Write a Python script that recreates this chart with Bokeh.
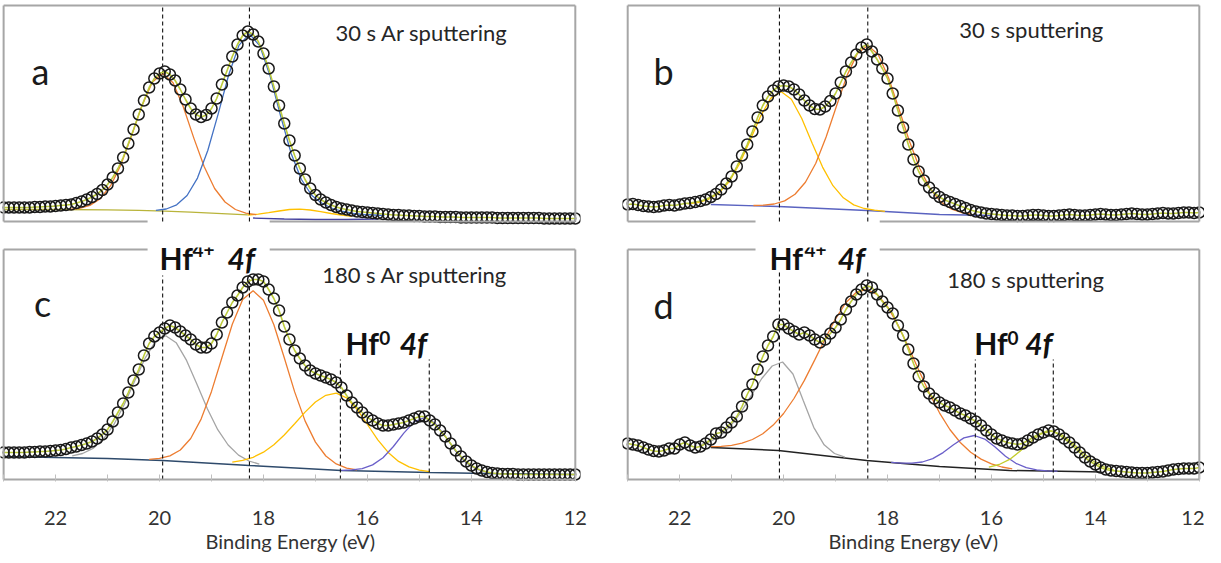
import numpy as np
from bokeh.plotting import figure
from bokeh.models import Range1d, Label, LinearAxis, FixedTicker
from bokeh.layouts import column, row
from bokeh.embed import file_html
from bokeh.resources import INLINE

# ---------------- data (intensity in arbitrary units) -------------
energy = np.round(np.linspace(23.0, 12.0, 111), 2)   # binding energy grid, 0.1 eV

a_data = [14, 14, 14, 14, 14, 14, 14.5, 14.5, 15, 15,
          15.5, 16, 16.5, 17, 18.5, 20, 22, 24.5, 27.5, 31.5,
          37, 44, 53, 64, 78, 92, 107, 121, 134, 143,
          148, 150, 147, 141, 132, 122, 113, 107, 104.5, 106.5,
          113, 123, 137, 151, 165, 177, 186, 190, 187, 180,
          168, 153, 135, 116, 98, 81, 66, 53, 42, 33,
          26.5, 22, 19, 16.5, 14.5, 13, 12, 11, 10, 9.5,
          9, 8.5, 8, 7.5, 7, 6.5, 6.5, 6, 6, 5.5,
          5.5, 5, 5, 5, 4.5, 4.5, 4.5, 4.5, 4, 4,
          4, 4, 4, 4, 4, 3.5, 3.5, 3.5, 3.5, 3.5,
          3.5, 3.5, 3.5, 3.5, 3, 3, 3, 3, 3, 3,
          3]
b_data = [17, 17.5, 16.5, 15.5, 15, 14.5, 15, 16, 16.5, 16,
          17, 18, 18.5, 19.5, 20.5, 22, 24.5, 27.5, 32, 38,
          45, 55, 66, 77, 90, 104, 116, 125, 131, 135,
          136, 135, 132, 127, 121, 116, 112.5, 112, 115, 120.5,
          128, 139, 150, 159, 167, 174, 177, 170, 162, 153,
          143, 128, 111, 94, 77, 62, 50, 41, 34, 28.5,
          24.5, 21.5, 19.5, 17.5, 15.5, 13.5, 11.5, 10, 9, 8,
          7.5, 7, 6.5, 6, 6, 5.5, 5.5, 6, 6.5, 6.5,
          6, 5.5, 5.5, 6, 6.5, 7, 6.5, 6, 6, 6.5,
          7, 7.5, 7, 6.5, 6.5, 7, 7.5, 8, 7.5, 7,
          7, 7.5, 8, 8.5, 8, 8, 8.5, 9, 9, 8.5,
          9]
c_data = [27, 27, 27, 27, 27, 27.5, 27.5, 28, 28, 28.5,
          29, 29.5, 30.5, 32, 33, 34.5, 36, 38, 41, 45,
          50, 58, 67, 76, 87, 99, 110, 124, 136, 143,
          147, 151, 154, 152, 148, 144, 140, 135, 132, 132,
          136, 145, 157, 167, 177, 184, 192, 198, 200, 200,
          198, 190, 181, 169, 153, 140, 129, 121, 114, 109,
          106, 104, 102, 100, 97, 92, 84, 77, 72, 67,
          62, 59, 56, 54, 54, 55, 56, 57, 59, 61,
          63, 63, 59, 55, 49, 43, 36, 29, 23, 18,
          14, 11, 9, 7.5, 6.5, 6, 5.5, 5.5, 5.5, 5,
          5, 5, 5, 5, 5, 5, 5, 5, 5, 5,
          5]
d_data = [36, 35, 34, 32, 30, 28.5, 28, 29, 31, 31,
          35, 37, 34, 32, 33, 36, 40, 46, 47, 52,
          57, 63, 73, 85, 95, 110, 123, 134, 143, 155,
          155, 151, 148, 145, 147, 144, 140, 137, 140, 146,
          152, 160, 170, 178, 185, 190, 194, 192, 185, 178,
          172, 166, 154, 144, 130, 116, 103, 93, 86, 81,
          77, 74, 72, 69, 66, 64, 61, 58, 54, 49,
          45, 41, 39, 37, 36, 35, 36, 39, 42, 45,
          47, 49, 48, 45, 41, 37, 32, 27, 22, 18,
          15, 12, 10, 9, 8.5, 8, 7.5, 7, 6.5, 6.5,
          6.5, 7, 7.5, 8, 9, 10, 10.5, 11, 11, 11,
          12]

# fitted components: first energy of each curve, then values every 0.2 eV towards lower BE
a_orange_start, a_orange = 21.74, [12.0, 13.2, 16.1, 22.9, 35.8, 57.1, 85.4, 115.6, 139.3, 148.0,
                                   138.7, 114.3, 83.4, 54.7, 33.0, 19.5, 12.0, 8.4, 6.8]
a_blue_start, a_blue = 20.07, [11.1, 12.5, 16.7, 26.0, 43.4, 71.2, 107.9, 146.5, 176.4, 187.6,
                               175.6, 144.9, 105.5, 68.3, 42.0, 26.0, 18.0, 13.0, 10.0, 8.0,
                               7.0, 6.5, 6.0]
a_yellow_start, a_yellow = 18.3, [6.5, 7.3, 8.8, 10.5, 12.0, 12.3, 11.5, 9.8, 8.0, 6.5, 5.2]
a_bg_x = [23.0, 22.0, 21.0, 20.4, 19.9, 19.4, 18.9, 18.3]
a_bg = [12, 12, 11.7, 11.2, 10.3, 9.3, 8.2, 6.6]
a_low_x = [18.2, 17.6, 17.0, 16.4, 15.8]
a_low = [3.5, 2.5, 2.0, 2.0, 2.5]

b_yellow_start, b_yellow = 21.85, [17.7, 18.9, 22.0, 28.3, 39.7, 57.5, 80.5, 104.6, 123.1, 129.9,
                                   122.3, 103.0, 78.2, 54.4, 35.8, 23.7, 16.6, 13.0, 11.3, 10.2]
b_orange_start, b_orange = 20.58, [16.0, 16.3, 17.5, 20.6, 27.2, 39.2, 58.3, 84.7, 115.7, 145.9,
                                   168.1, 176.0, 167.0, 143.8, 112.5, 80.5, 53.0, 32.9, 19.9, 12.7,
                                   9.0, 7.3]
b_bg_x = [21.4, 20.1, 18.4, 17.0, 16.0]
b_bg = [17, 15, 11, 7, 6]

c_gray_start, c_gray = 21.68, [23.6, 26.0, 31.1, 40.4, 54.8, 74.8, 98.3, 121.1, 137.9, 143.8,
                               136.8, 119.1, 95.3, 70.8, 49.8, 34.5, 24.4, 18.5, 15.4]
c_orange_start, c_orange = 20.2, [20.2, 21.1, 23.6, 29.5, 41.0, 60.4, 88.1, 121.8, 155.2, 180.0,
                                  188.8, 179.3, 154.8, 121.7, 87.6, 58.6, 37.4, 23.5, 15.6, 11.4,
                                  9.6]
c_yellow_start, c_yellow = 18.6, [17.4, 19.1, 22.2, 27.3, 34.8, 44.5, 55.8, 67.4, 77.5, 84.2,
                                  86.3, 81.6, 70.3, 55.0, 39.7, 27.1, 18.1, 12.6, 9.4, 7.9]
c_purple_start, c_purple = 16.5, [9.2, 9.6, 10.9, 14.6, 21.8, 33.0, 46.4, 57.6, 62.0, 56.4,
                                  43.0, 28.2, 16.8, 10.3, 7.3]
c_bg_x = [23.0, 22.0, 21.0, 19.94, 18.27, 16.5, 14.8, 13.7, 12.0]
c_bg = [23, 22, 21, 19, 14, 9, 7, 6, 5]

d_gray_start, d_gray = 21.62, [34.5, 37.8, 43.6, 53.3, 67.3, 84.2, 101.0, 113.5, 117.5, 105.5,
                               78.8, 52.2, 34.7, 26.0, 22.3]
d_orange_start, d_orange = 21.4, [32.8, 33.2, 34.2, 36.3, 40.0, 45.8, 54.4, 66.0, 81.0, 99.1,
                                  119.6, 140.8, 160.7, 177.0, 187.3, 190.0, 185.2, 172.9, 154.6, 132.7,
                                  109.4, 86.9, 66.7, 50.0, 37.0, 27.3, 20.4, 15.7, 12.5, 10.7]
d_purple_start, d_purple = 17.93, [17.1, 16.4, 16.4, 17.5, 20.9, 26.9, 34.8, 41.6, 44.0, 40.4,
                                   32.4, 23.3, 16.2, 11.8, 9.6, 8.7, 8.3]
d_ygreen_start, d_ygreen = 16.05, [12.3, 15.0, 20.1, 28.3, 37.7, 45.4, 48.3, 45.0, 37.0, 27.3,
                                   18.8, 12.9, 9.6]
d_bg_x = [21.4, 20.1, 18.4, 17.0, 15.65, 14.1, 13.9]
d_bg = [32, 29, 19, 13, 9, 7.7, 7.5]

# reference peak positions (dashed lines), eV
a_lines = [19.94, 18.27]
b_lines = [20.08, 18.38]
c_lines_hf4 = [19.94, 18.27]
c_lines_hf0 = [16.52, 14.81]
d_lines_hf4 = [20.08, 18.38]
d_lines_hf0 = [16.31, 14.81]

tick_major = [22, 20, 18, 16, 14, 12]
tick_minor = [23, 21, 19, 17, 15, 13]

# ---------------- styling ----------------
FONT = "Lato"
BOXC = "#A6A6A6"
ORANGE, BLUE, GRAY, YELLOW = "#ED7D31", "#4472C4", "#A5A5A5", "#FFC000"
OLIVE, NAVY, PURPLE, LOWBLUE = "#B9B43A", "#2E4A6B", "#6A5FC9", "#43409E"
BBLUE, BLACK, YGREEN, ENV = "#5A63C0", "#222222", "#C3CC2C", "#BCCB3C"
E_HI, E_LO = 23.0, 12.0
TOP_AB, TOP_CD = 216, 230


def comp_x(start, vals):
    return list(np.round(start - 0.2 * np.arange(len(vals)), 3))


def make_fig(xr, fw, yr, fh, borders):
    p = figure(x_range=Range1d(*xr), y_range=Range1d(*yr), frame_width=fw, frame_height=fh,
               min_border_left=borders[0], min_border_right=borders[1],
               min_border_top=borders[2], min_border_bottom=borders[3],
               x_axis_location=None, y_axis_location=None, toolbar_location=None,
               output_backend="svg", title=None, outline_line_color=None,
               background_fill_color="white", border_fill_color="white")
    p.grid.visible = False
    return p


def add_box(p, top, where, gap):
    xs0 = [E_HI, E_LO]
    p.segment(x0=xs0, y0=[0, 0], x1=xs0, y1=[top, top], line_color=BOXC, line_width=2)
    for y, is_gap in ((0, where == "bottom"), (top, where == "top")):
        if is_gap:
            p.segment(x0=[E_HI, gap[1]], y0=[y, y], x1=[gap[0], E_LO], y1=[y, y],
                      line_color=BOXC, line_width=2)
        else:
            p.segment(x0=[E_HI], y0=[y], x1=[E_LO], y1=[y], line_color=BOXC, line_width=2)


def draw_line(p, x, y, color, w=1.3):
    p.line(x, y, line_color=color, line_width=w)


def draw_dashes(p, xs, top):
    p.segment(x0=xs, y0=[0] * len(xs), x1=xs, y1=[top] * len(xs),
              line_color="#111111", line_width=1.1, line_dash="4 3")


def draw_data(p, data):
    p.line(energy, data, line_color=ENV, line_width=1.6)
    p.scatter(energy, data, marker="circle", size=11, fill_color=None,
              line_color="#1A1A1A", line_width=1.5)


def text(p, x, y, t, size, style="normal", align="left", baseline="middle", color="#1A1A1A"):
    p.add_layout(Label(x=x, y=y, text=t, text_font=FONT, text_font_size=size,
                       text_font_style=style, text_align=align, text_baseline=baseline,
                       text_color=color))


GAP_L = (20.23, 17.88)
GAP_R = (20.54, 18.15)

# ---------------- panel a ----------------
fa = make_fig((23.06, 11.9), 580, (-7, 218), 225, (0, 10, 3, 5))
draw_line(fa, a_bg_x, a_bg, OLIVE)
draw_line(fa, a_low_x, a_low, LOWBLUE)
draw_line(fa, comp_x(a_yellow_start, a_yellow), a_yellow, YELLOW)
draw_line(fa, comp_x(a_orange_start, a_orange), a_orange, ORANGE)
draw_line(fa, comp_x(a_blue_start, a_blue), a_blue, BLUE)
draw_dashes(fa, a_lines, TOP_AB)
draw_data(fa, a_data)
add_box(fa, TOP_AB, "bottom", GAP_L)
text(fa, 22.29, 151, "a", "36px", align="center", baseline="alphabetic")
text(fa, 16.615, 189, "30 s Ar sputtering", "22px", color="#262626")

# ---------------- panel b ----------------
fb = make_fig((23.1, 11.9), 582, (-7, 218), 225, (32, 0, 3, 5))
draw_line(fb, b_bg_x, b_bg, BBLUE)
draw_line(fb, comp_x(b_yellow_start, b_yellow), b_yellow, YELLOW)
draw_line(fb, comp_x(b_orange_start, b_orange), b_orange, ORANGE)
draw_dashes(fb, b_lines, TOP_AB)
draw_data(fb, b_data)
add_box(fb, TOP_AB, "bottom", GAP_R)
text(fb, 22.31, 151, "b", "36px", align="center", baseline="alphabetic")
text(fb, 16.62, 192, "30 s sputtering", "22px", color="#262626")


def add_xaxis(p):
    ax = LinearAxis(ticker=FixedTicker(ticks=tick_major, minor_ticks=tick_minor),
                    axis_label="Binding Energy (eV)")
    ax.axis_line_color = None
    ax.major_tick_in, ax.major_tick_out = 7, 0
    ax.minor_tick_in, ax.minor_tick_out = 7, 0
    ax.major_tick_line_color = "#BFBFBF"
    ax.minor_tick_line_color = "#BFBFBF"
    ax.major_label_text_font = FONT
    ax.major_label_text_font_size = "20px"
    ax.major_label_text_color = "#333333"
    ax.major_label_standoff = 29
    ax.axis_label_text_font = FONT
    ax.axis_label_text_font_size = "20px"
    ax.axis_label_text_font_style = "normal"
    ax.axis_label_text_color = "#333333"
    ax.axis_label_standoff = 1
    p.add_layout(ax, "below")


def hf_labels(p, x_hf, x_sup, x_4f, y_base, y_sup, sup):
    text(p, x_hf, y_base, "Hf", "30px", "bold", baseline="alphabetic", color="#111111")
    text(p, x_sup, y_sup, sup, "19px", "bold", baseline="alphabetic", color="#111111")
    text(p, x_4f, y_base, "4f", "30px", "bold italic", baseline="alphabetic", color="#111111")


# ---------------- panel c ----------------
fc = make_fig((23.06, 11.9), 580, (-2, 232), 234, (0, 10, 14, 40))
draw_line(fc, c_bg_x, c_bg, NAVY, 1.5)
draw_line(fc, comp_x(c_gray_start, c_gray), c_gray, GRAY)
draw_line(fc, comp_x(c_orange_start, c_orange), c_orange, ORANGE)
draw_line(fc, comp_x(c_yellow_start, c_yellow), c_yellow, YELLOW)
draw_line(fc, comp_x(c_purple_start, c_purple), c_purple, PURPLE)
draw_dashes(fc, c_lines_hf4, 204)
draw_dashes(fc, c_lines_hf0, 120)
draw_data(fc, c_data)
add_box(fc, TOP_CD, "top", GAP_L)
add_xaxis(fc)
text(fc, 22.25, 177, "c", "36px", align="center", baseline="alphabetic")
text(fc, 16.87, 205, "180 s Ar sputtering", "22px", color="#262626")
hf_labels(fc, 20.0, 19.365, 18.69, 222, 230, "4+")
hf_labels(fc, 16.42, 15.77, 15.38, 136.5, 142, "0")

# ---------------- panel d ----------------
fd = make_fig((23.1, 11.9), 582, (-2, 232), 234, (32, 0, 14, 40))
draw_line(fd, d_bg_x, d_bg, BLACK, 1.5)
draw_line(fd, comp_x(d_gray_start, d_gray), d_gray, GRAY)
draw_line(fd, comp_x(d_orange_start, d_orange), d_orange, ORANGE)
draw_line(fd, comp_x(d_purple_start, d_purple), d_purple, PURPLE)
draw_line(fd, comp_x(d_ygreen_start, d_ygreen), d_ygreen, YGREEN)
draw_dashes(fd, d_lines_hf4, 207)
draw_dashes(fd, d_lines_hf0, 120)
draw_data(fd, d_data)
add_box(fd, TOP_CD, "top", GAP_R)
add_xaxis(fd)
text(fd, 22.31, 175, "d", "36px", align="center", baseline="alphabetic")
text(fd, 16.85, 200, "180 s sputtering", "22px", color="#262626")
hf_labels(fd, 20.27, 19.60, 18.96, 222, 230, "4+")
hf_labels(fd, 16.33, 15.69, 15.35, 137, 142, "0")

layout = column(row(fa, fb), row(fc, fd))
open("out.html", "w").write(file_html(layout, INLINE, title="Hf 4f XPS"))
